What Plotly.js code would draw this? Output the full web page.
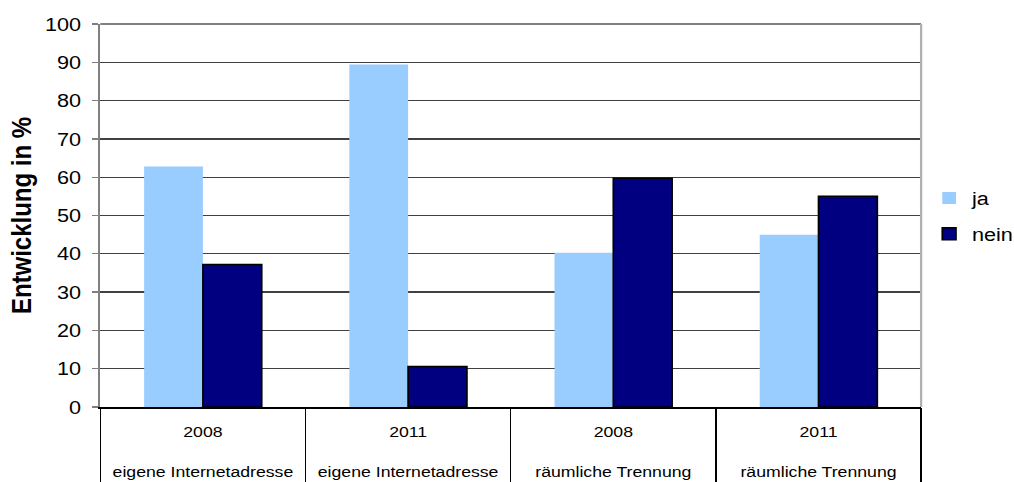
<!DOCTYPE html>
<html>
<head>
<meta charset="utf-8">
<script src="https://cdn.plot.ly/plotly-3.0.1.min.js"></script>
<style>
  html, body { margin: 0; padding: 0; background: #fff; overflow: hidden; }
  #chart { width: 890px; height: 482px; transform: scaleX(1.14); transform-origin: 0 0; }
</style>
</head>
<body>
<div id="chart"></div>
<script>
// Survey categories: year and topic for each bar group
const years = ['2008', '2011', '2008', '2011'];
const topics = ['eigene Internetadresse', 'eigene Internetadresse', 'räumliche Trennung', 'räumliche Trennung'];

// Share of answers in percent
const jaValues = [62.8, 89.4, 40.3, 45.0];
const neinValues = [37.2, 10.6, 59.7, 55.0];

// Y axis ticks
const yTicks = [0, 10, 20, 30, 40, 50, 60, 70, 80, 90, 100];

const categories = years.map((y, i) => y + '<br><br>' + topics[i]);

const FONT = 'Liberation Sans, Arial, sans-serif';

const traces = [
  {
    type: 'bar', name: 'ja', x: categories, y: jaValues,
    marker: { color: '#99CCFF', line: { width: 0 } },
    legendgroup: 'ja', hoverinfo: 'y'
  },
  {
    type: 'bar', name: 'nein', x: categories, y: neinValues,
    marker: { color: '#000080', line: { color: '#000000', width: 1.5 } },
    legendgroup: 'nein', hoverinfo: 'y'
  },
  // carries the category divider ticks on the overlay axis
  {
    type: 'scatter', mode: 'none', x: categories, y: jaValues,
    xaxis: 'x2', showlegend: false, hoverinfo: 'skip'
  }
];

const layout = {
  width: 890, height: 482,
  margin: { l: 88, r: 82, t: 24, b: 75, autoexpand: false },
  paper_bgcolor: '#ffffff', plot_bgcolor: '#ffffff',
  font: { family: FONT, color: '#000000' },
  barmode: 'group', bargap: 0.427, bargroupgap: 0,
  showlegend: true,
  legend: {
    xref: 'container', x: 0.913, xanchor: 'left', y: 0.595, yanchor: 'top',
    font: { size: 19, family: FONT, color: '#000' },
    traceorder: 'grouped', tracegroupgap: 8,
    itemwidth: 30, bgcolor: 'rgba(0,0,0,0)'
  },
  xaxis: {
    type: 'category', categoryorder: 'array', categoryarray: categories,
    range: [-0.5, 3.5],
    showline: true, linecolor: '#000000', linewidth: 1.5,
    ticks: '', showgrid: false, zeroline: false,
    tickfont: { size: 15.5, family: FONT, color: '#000' },
    ticklabelstandoff: 10, automargin: false, fixedrange: true
  },
  xaxis2: {
    type: 'category', categoryorder: 'array', categoryarray: categories,
    overlaying: 'x', anchor: 'y', side: 'bottom',
    range: [-0.5, 3.5],
    tickson: 'boundaries', ticks: 'outside', ticklen: 75,
    tickcolor: '#000000', tickwidth: 1.2,
    showticklabels: false, showgrid: false, showline: false, zeroline: false,
    automargin: false, fixedrange: true
  },
  yaxis: {
    range: [0, 100], tickmode: 'array', tickvals: yTicks, ticktext: yTicks.map(String),
    showgrid: true, gridcolor: '#404040', gridwidth: 1.3,
    showline: true, linecolor: '#808080', linewidth: 2,
    ticks: 'outside', ticklen: 5, tickcolor: '#808080', tickwidth: 1.3,
    zeroline: false,
    tickfont: { size: 19, family: FONT, color: '#000' },
    ticklabelstandoff: 6,
    title: { text: '<b>Entwicklung in %</b>', font: { size: 24, family: FONT, color: '#000' }, standoff: 5 },
    automargin: false, fixedrange: true
  },
  shapes: [
    { type: 'line', xref: 'paper', yref: 'paper', x0: 0, x1: 1, y0: 1, y1: 1,
      line: { color: '#808080', width: 2 } },
    { type: 'line', xref: 'paper', yref: 'paper', x0: 1, x1: 1, y0: 0, y1: 1,
      line: { color: '#b0b0b0', width: 2 } }
  ]
};

Plotly.newPlot('chart', traces, layout, { displayModeBar: false, staticPlot: true });
</script>
</body>
</html>
